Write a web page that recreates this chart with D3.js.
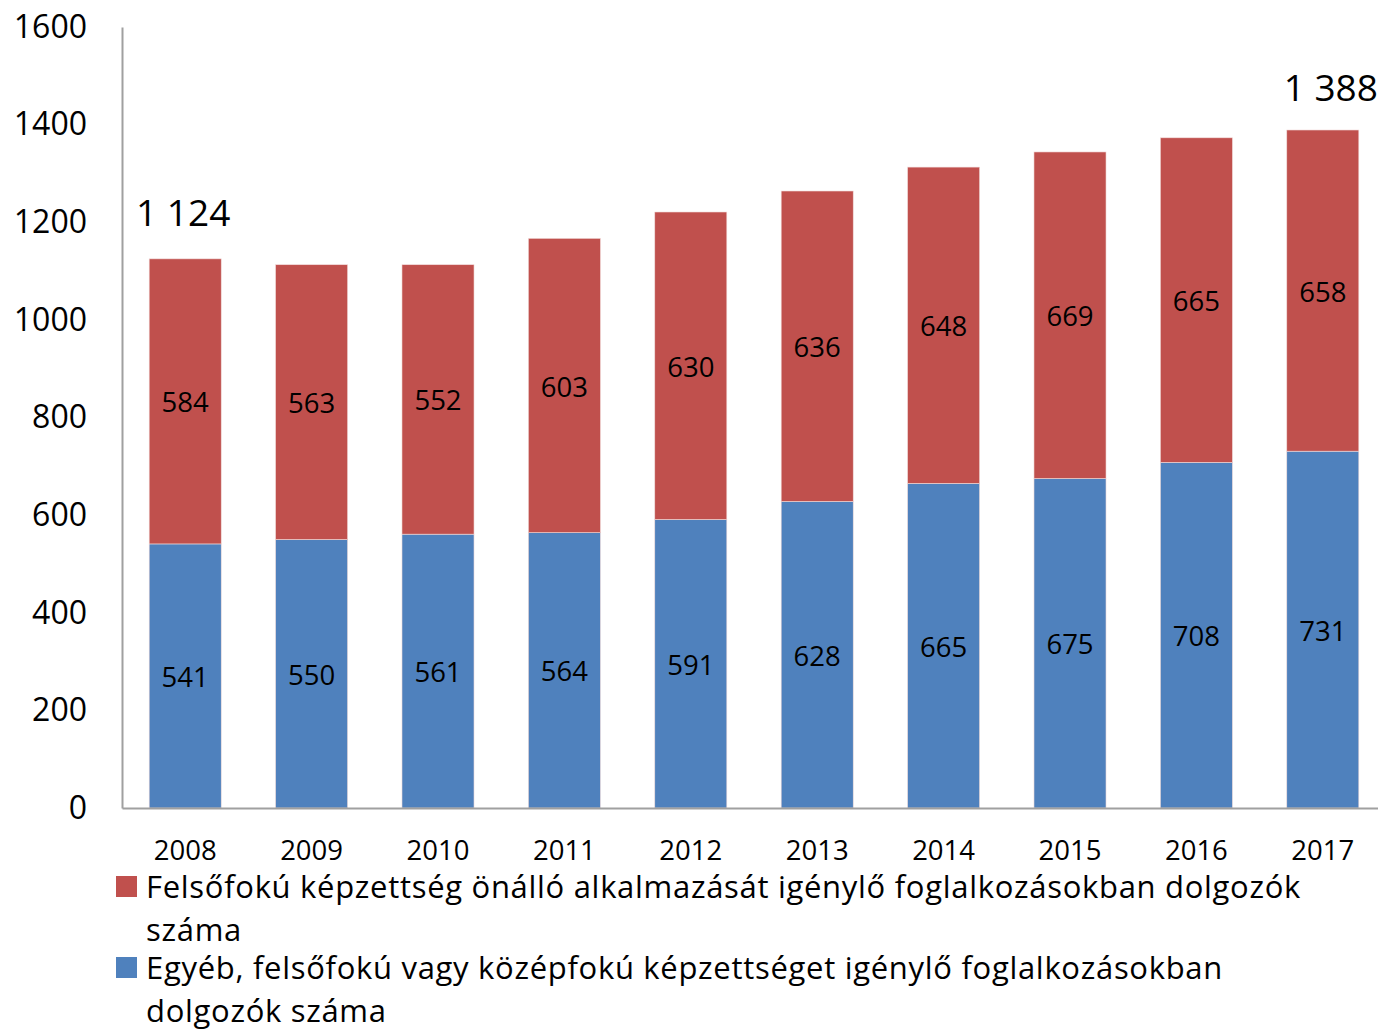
<!doctype html>
<html>
<head>
<meta charset="utf-8">
<script src="https://cdn.jsdelivr.net/npm/d3@7"></script>
<style>
  body { margin: 0; background: #fff; }
  svg { display: block; font-family: "Open Sans", sans-serif; }
</style>
</head>
<body>
<svg width="1378" height="1031"></svg>
<script>
// data
var years = ["2008", "2009", "2010", "2011", "2012", "2013", "2014", "2015", "2016", "2017"];
var egyeb = [541, 550, 561, 564, 591, 628, 665, 675, 708, 731];
var felsofoku = [584, 563, 552, 603, 630, 636, 648, 669, 665, 658];
var totals = [{year: "2008", value: 1124, text: "1 124"}, {year: "2017", value: 1388, text: "1 388"}];
var yTicks = [0, 200, 400, 600, 800, 1000, 1200, 1400, 1600];
var legendRed = ["Felsőfokú képzettség önálló alkalmazását igénylő foglalkozásokban dolgozók", "száma"];
var legendBlue = ["Egyéb, felsőfokú vagy középfokú képzettséget igénylő foglalkozásokban", "dolgozók száma"];

var red = "#c0504d", blue = "#4f81bd";

var svg = d3.select("svg");

var x = d3.scaleBand().domain(years).range([122, 1386]).paddingInner(0.43).paddingOuter(0.215);
var y = d3.scaleLinear().domain([0, 1600]).range([808, 27]);

var rows = years.map((yr, i) => ({year: yr, egyeb: egyeb[i], felso: felsofoku[i]}));
var stack = d3.stack().keys(["egyeb", "felso"])(rows);
var colors = {egyeb: blue, felso: red};

// bars
svg.selectAll("g.series")
  .data(stack)
  .enter().append("g")
  .attr("class", "series")
  .each(function(s) {
    d3.select(this).selectAll("rect")
      .data(s)
      .enter().append("rect")
      .attr("x", d => x(d.data.year))
      .attr("y", d => y(d[1]))
      .attr("width", x.bandwidth())
      .attr("height", d => y(d[0]) - y(d[1]))
      .attr("fill", colors[s.key])
      .attr("stroke", "#f2dcdb")
      .attr("stroke-width", 0.6);

    d3.select(this).selectAll("text")
      .data(s)
      .enter().append("text")
      .attr("x", d => x(d.data.year) + x.bandwidth() / 2)
      .attr("y", d => y((d[0] + d[1]) / 2))
      .attr("dy", "0.4em")
      .attr("text-anchor", "middle")
      .attr("font-size", 27.5)
      .attr("fill", "#000")
      .text(d => d[1] - d[0]);
  });

// axes
var yAxis = d3.axisLeft(y).tickValues(yTicks).tickSize(0).tickPadding(35).tickFormat(d3.format("d"));
var yG = svg.append("g").attr("transform", "translate(122,0)").call(yAxis);
yG.select(".domain").attr("stroke", "#a0a0a0").attr("stroke-width", 2);
yG.selectAll("text").attr("font-size", 32).attr("font-family", "Open Sans").attr("fill", "#000");

var xAxis = d3.axisBottom(x).tickSize(0).tickPadding(32);
var xG = svg.append("g").attr("transform", "translate(0,808)").call(xAxis);
xG.select(".domain").attr("stroke", "#a0a0a0").attr("stroke-width", 2);
xG.selectAll("text").attr("font-size", 27.5).attr("font-family", "Open Sans").attr("fill", "#000");

// total labels
svg.selectAll("text.total")
  .data(totals)
  .enter().append("text")
  .attr("class", "total")
  .attr("x", d => x(d.year) + x.bandwidth() / 2 + (d.year === "2017" ? 8 : -2))
  .attr("y", d => y(d.value) - (d.year === "2017" ? 29 : 33))
  .attr("text-anchor", "middle")
  .attr("font-size", 37)
  .attr("fill", "#000")
  .text(d => d.text);

// legend
var legend = [{color: red, lines: legendRed}, {color: blue, lines: legendBlue}];
var lg = svg.selectAll("g.legend")
  .data(legend)
  .enter().append("g")
  .attr("class", "legend")
  .attr("transform", (d, i) => "translate(116," + (876 + i * 81) + ")");
lg.append("rect").attr("width", 21).attr("height", 21).attr("fill", d => d.color);
lg.append("text")
  .attr("font-size", 31)
  .attr("letter-spacing", 0.7)
  .attr("fill", "#000")
  .selectAll("tspan")
  .data(d => d.lines)
  .enter().append("tspan")
  .attr("x", 30)
  .attr("y", (d, i) => 22 + i * 43)
  .text(d => d);
</script>
</body>
</html>
